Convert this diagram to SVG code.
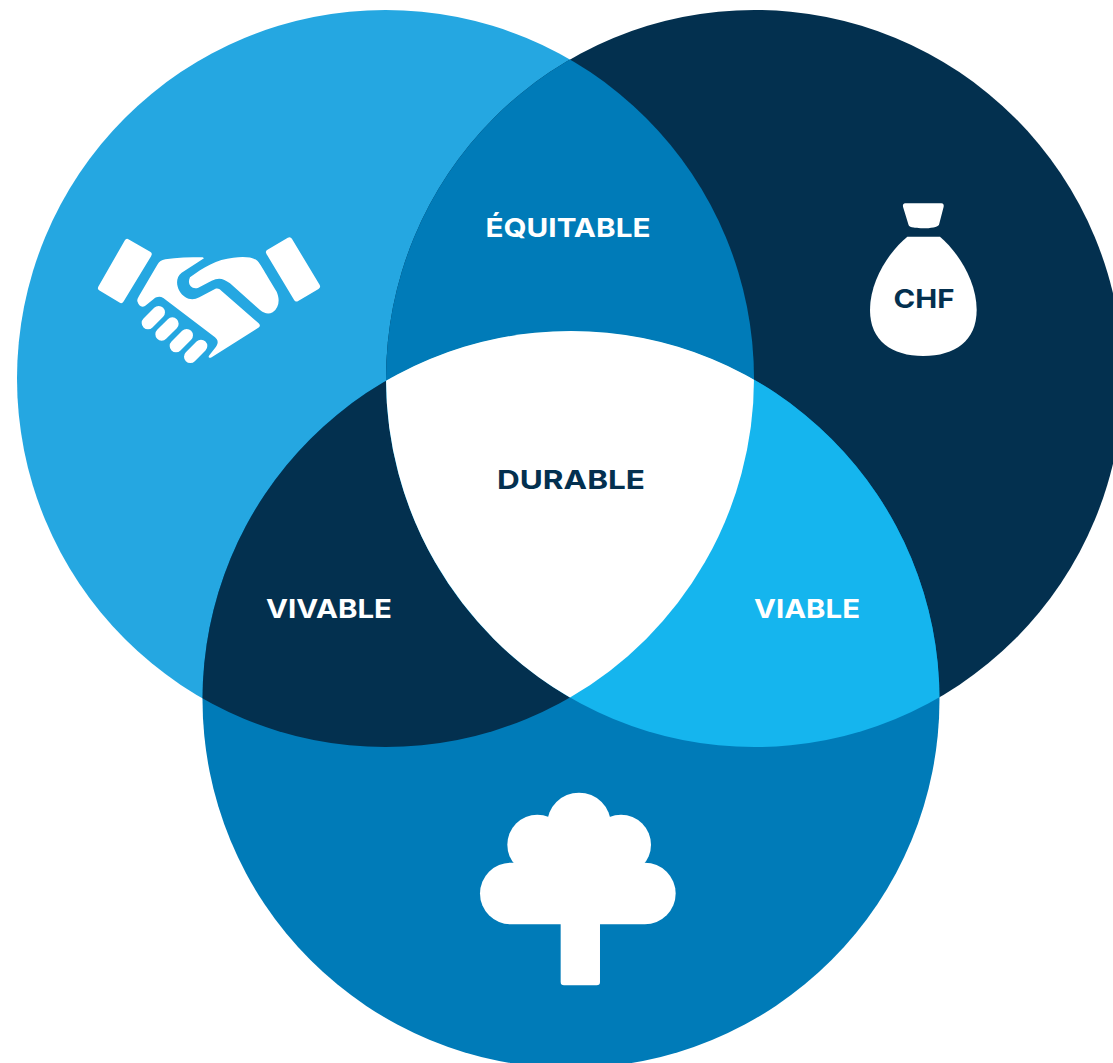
<svg xmlns="http://www.w3.org/2000/svg" width="1113" height="1063" viewBox="0 0 1113 1063">
<style>
.lbl{font-family:Inter,"Liberation Sans",sans-serif;font-weight:700;font-size:26px;text-anchor:middle}
.w{fill:#fff}.n{fill:#03304f}
</style>
<defs>
<clipPath id="ca"><circle cx="385.5" cy="378.5" r="368.5"/></clipPath>
<clipPath id="cb"><circle cx="754.5" cy="378.5" r="368.5"/></clipPath>
<clipPath id="cab" clip-path="url(#ca)"><circle cx="754.5" cy="378.5" r="368.5"/></clipPath>
</defs>
<rect width="1113" height="1063" fill="#fff"/>
<g id="circle-social"><circle cx="385.5" cy="378.5" r="368.5" fill="#25a7e1"/></g>
<g id="circle-economic"><circle cx="754.5" cy="378.5" r="368.5" fill="#03304f"/></g>
<g id="circle-environment"><circle cx="571" cy="699.5" r="368.5" fill="#007bb8"/></g>
<g id="equitable">
<circle cx="754.5" cy="378.5" r="368.5" fill="#007bb8" clip-path="url(#ca)"/>
<text class="lbl w" x="568" y="237" textLength="165" lengthAdjust="spacingAndGlyphs">ÉQUITABLE</text>
</g>
<g id="vivable">
<circle cx="571" cy="699.5" r="368.5" fill="#03304f" clip-path="url(#ca)"/>
<text class="lbl w" x="329" y="618" textLength="126" lengthAdjust="spacingAndGlyphs">VIVABLE</text>
</g>
<g id="viable">
<circle cx="571" cy="699.5" r="368.5" fill="#15b5ee" clip-path="url(#cb)"/>
<text class="lbl w" x="807" y="618" textLength="106" lengthAdjust="spacingAndGlyphs">VIABLE</text>
</g>
<g id="durable">
<circle cx="571" cy="699.5" r="368.5" fill="#fff" clip-path="url(#cab)"/>
<text class="lbl n" x="571" y="489" textLength="148" lengthAdjust="spacingAndGlyphs">DURABLE</text>
</g>
<g id="handshake" transform="translate(80 220) scale(.33333)" fill="#fff">
<path d="M142 66 206 103 123 240 63 204Z" stroke="#fff" stroke-width="18" stroke-linejoin="round"/>
<path d="M628 61 567 97 650 235 711 199Z" stroke="#fff" stroke-width="18" stroke-linejoin="round"/>
<path d="M372 115 305 158C288 170 288 195 298 212 312 236 335 244 358 232L405 207C412 204 418 206 424 212L536 310C542 316 540 320 535 323L395 412C388 416 383 412 388 406L408 380C416 368 414 360 405 352L250 234C240 228 230 230 222 236L195 258C185 264 176 258 172 244 171 238 174 234 177 228L232 134C238 124 244 120 256 118 290 113 330 112 368 112Z"/>
<path d="M330 172C370 142 410 118 460 113 490 110 515 110 532 122 540 130 548 145 590 215 600 238 598 262 578 277 565 284 552 280 540 270L450 190C430 174 415 172 395 182L355 203C335 210 320 192 330 172Z"/>
<path d="M204 309 236 277M245 343 277 311M288 378 320 346M331 410 363 378" fill="none" stroke="#fff" stroke-width="38" stroke-linecap="round"/>
</g>
<g id="money-bag" transform="translate(850 190) scale(.33333)">
<path fill="#fff" d="M166 40H274C280 40 282 44 281 50L267 104C265 111 240 115 220 115 200 115 178 113 176 106L159 50C158 44 160 40 166 40Z"/>
<path fill="#fff" d="M172 140H270C320 182 380 270 380 360 380 452 315 498 220 498 125 498 60 452 60 360 60 270 120 182 172 140Z"/>
</g>
<text class="lbl n" x="924" y="308" textLength="61" lengthAdjust="spacingAndGlyphs">CHF</text>
<g id="tree" transform="translate(470 780) scale(.33333)" fill="#fff">
<circle cx="327" cy="134" r="96"/>
<circle cx="202" cy="194" r="90"/>
<circle cx="453" cy="194" r="90"/>
<rect x="30" y="248" width="587" height="185" rx="92.5"/>
<rect x="190" y="150" width="270" height="120"/>
<rect x="272" y="420" width="118" height="196" rx="10"/>
</g>
</svg>
